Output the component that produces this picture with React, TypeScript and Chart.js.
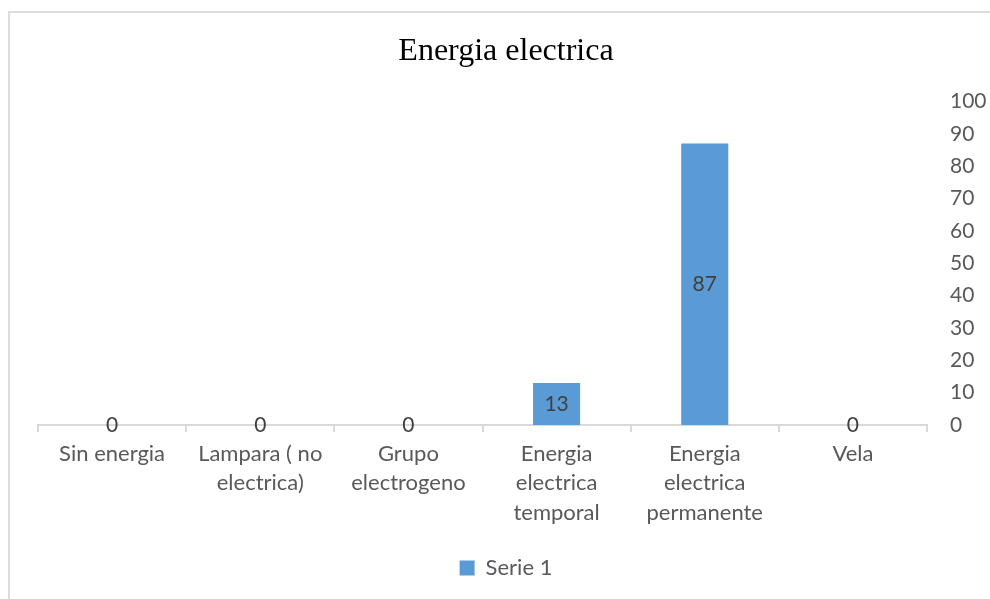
import React, { useEffect, useRef } from "react";
import { Chart, registerables } from "chart.js";

Chart.register(...registerables);

const categories: (string | string[])[] = [
  "Sin energia",
  ["Lampara ( no", "electrica)"],
  ["Grupo", "electrogeno"],
  ["Energia", "electrica", "temporal"],
  ["Energia", "electrica", "permanente"],
  "Vela",
];
const serie1: number[] = [0, 0, 0, 13, 87, 0];
const seriesName = "Serie 1";
const titleText = "Energia electrica";
const yMin = 0;
const yMax = 100;
const yStep = 10;

const FONT = "Lato";

const valueLabels = {
  id: "valueLabels",
  afterDatasetsDraw(chart: any) {
    const ctx = chart.ctx;
    ctx.save();
    ctx.font = `21px ${FONT}`;
    ctx.fillStyle = "#404040";
    ctx.textAlign = "center";
    ctx.textBaseline = "middle";
    chart.data.datasets.forEach((ds: any, i: number) => {
      const meta = chart.getDatasetMeta(i);
      meta.data.forEach((bar: any, j: number) => {
        const y = (bar.y + bar.base) / 2;
        ctx.fillText(String(ds.data[j]), bar.x, y);
      });
    });
    ctx.restore();
  },
};

export default function App() {
  const ref = useRef<HTMLCanvasElement>(null);
  useEffect(() => {
    const chart = new Chart(ref.current!, {
      type: "bar",
      data: {
        labels: categories,
        datasets: [
          {
            label: seriesName,
            data: serie1,
            backgroundColor: "#5B9BD5",
            borderWidth: 0,
            categoryPercentage: 1,
            barPercentage: 0.318,
          },
        ],
      },
      options: {
        animation: false,
        responsive: false,
        maintainAspectRatio: false,
        layout: { padding: { left: 38, right: 16, top: 20, bottom: 10 } },
        plugins: {
          title: {
            display: true,
            text: titleText,
            color: "#000000",
            font: { family: "Liberation Serif", size: 32, weight: "normal" },
            padding: { top: 12, bottom: 31 },
          },
          legend: {
            position: "bottom",
            labels: {
              color: "#595959",
              font: { family: FONT, size: 22 },
              boxWidth: 15,
              boxHeight: 15,
              padding: 10,
            },
          },
          tooltip: { enabled: false },
        },
        scales: {
          x: {
            grid: {
              display: true,
              drawOnChartArea: false,
              drawTicks: true,
              tickLength: 7,
              color: "#d9d9d9",
              lineWidth: 2,
              offset: true,
            },
            border: { display: true, color: "#d9d9d9", width: 2 },
            ticks: {
              color: "#595959",
              font: { family: FONT, size: 22, lineHeight: 1.34 },
              padding: 7,
              maxRotation: 0,
              autoSkip: false,
            },
            afterFit: (s: any) => {
              s.height = 122;
            },
          },
          y: {
            position: "right",
            min: yMin,
            max: yMax,
            grid: { display: false, drawTicks: false },
            border: { display: false },
            ticks: {
              stepSize: yStep,
              color: "#595959",
              font: { family: FONT, size: 21 },
              padding: 23,
            },
            afterFit: (s: any) => {
              s.width = 47;
              s._computeLabelArea = () => undefined;
            },
          },
        },
      },
      plugins: [valueLabels],
    });
    return () => chart.destroy();
  }, []);
  return (
    <div style={{ position: "fixed", left: 0, top: 0, width: 990, height: 599, background: "#fff", overflow: "hidden" }}>
      <div
        style={{
          position: "absolute",
          left: 8,
          top: 11,
          width: 1000,
          height: 620,
          border: "2px solid #dcdcdc",
          boxSizing: "border-box",
        }}
      />
      <canvas ref={ref} width={990} height={599} style={{ position: "absolute", left: 0, top: 0 }} />
    </div>
  );
}
